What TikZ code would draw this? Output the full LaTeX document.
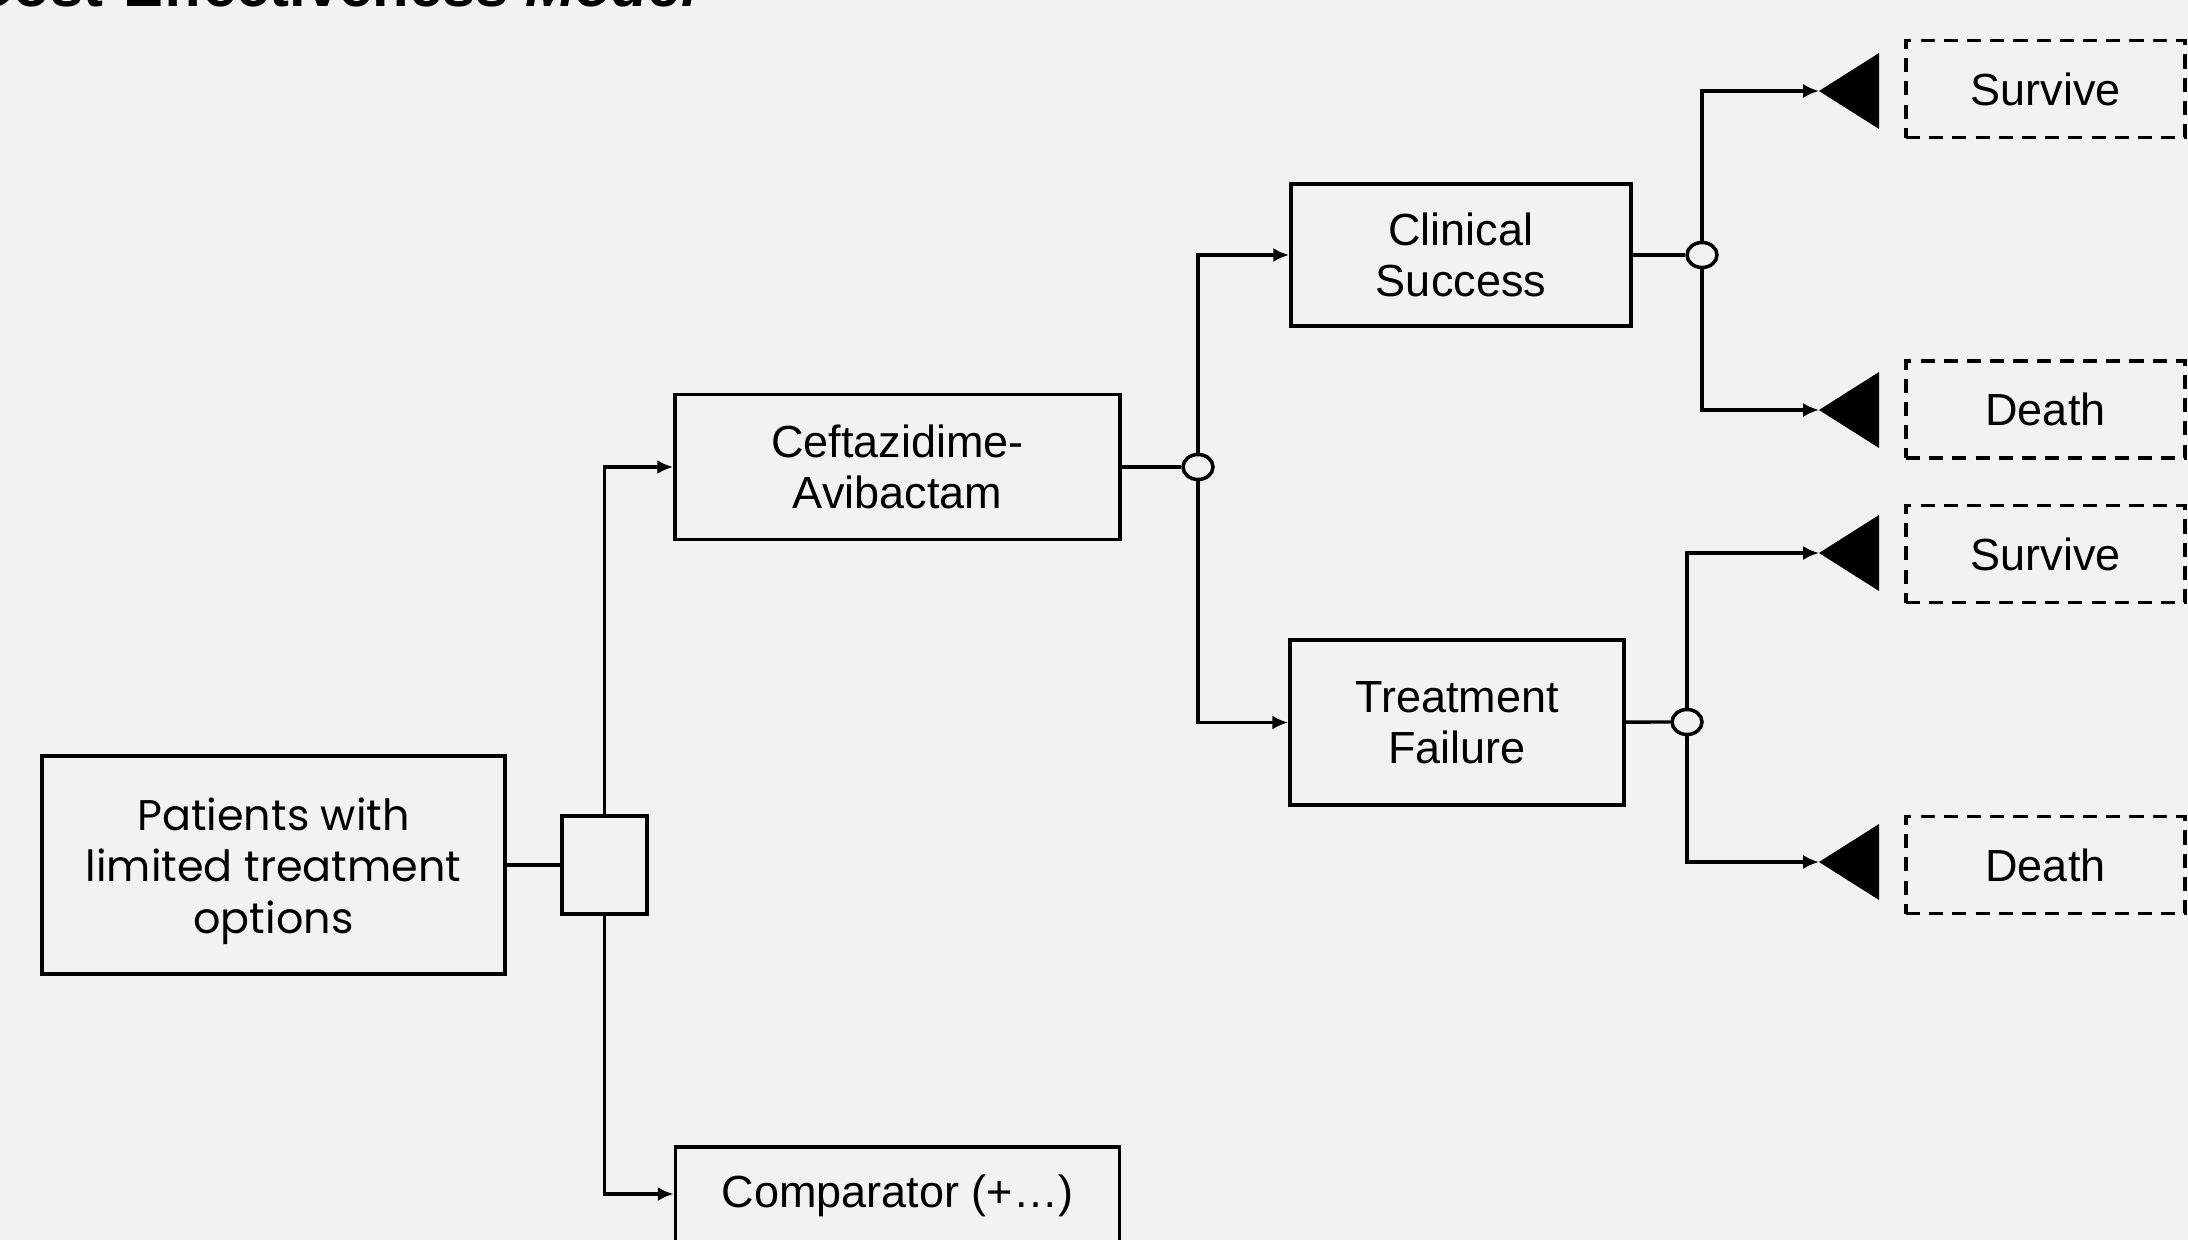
\documentclass[tikz,border=0pt]{standalone}
\usepackage{fontspec}
\setmainfont{Liberation Sans}
\newfontfamily\gothic{Poppins}
\usetikzlibrary{arrows.meta,shapes.geometric}
\definecolor{bg}{RGB}{242,242,242}
\begin{document}
\begin{tikzpicture}[x=0.01cm,y=-0.01cm,
 box/.style={draw,line width=1pt,align=center,inner sep=0pt,font=\fontsize{12.8}{14.4}\selectfont},
 endbox/.style={box,dash pattern=on 4pt off 2.6pt,minimum width=2.79cm,minimum height=0.97cm},
 chance/.style={draw,ellipse,line width=1pt,minimum width=0.3cm,minimum height=0.25cm,inner sep=0pt},
 link/.style={line width=0.95pt},
 arr/.style={link,-{Latex[length=4.5pt,width=4pt]}},
 term/.style={fill=black}
]
\fill[bg] (0,0) rectangle (2188,1240);
\useasboundingbox (0,0) rectangle (2188,1240);

\node[anchor=base east,inner sep=0pt,font=\bfseries\fontsize{17}{20}\selectfont] (title) at (700,7) {Cost-Effectiveness \textit{Model}};

\node[box,minimum width=4.63cm,minimum height=2.18cm] (pat) at (273.5,865) {};
\node[font=\gothic\fontsize{12.2}{14.7}\selectfont,align=center,inner sep=0pt] (pattxt) at (273.5,871) {Patients with\\limited treatment\\options};
\node[draw,line width=1pt,minimum width=0.85cm,minimum height=0.98cm,inner sep=0pt] (dec) at (604.5,865) {};
\node[box,minimum width=4.45cm,minimum height=1.45cm] (cef) at (897.5,467) {Ceftazidime-\\Avibactam};
\node[box,minimum width=4.44cm,minimum height=0.98cm] (comp) at (897.5,1196) {Comparator (+…)};
\node[box,minimum width=3.4cm,minimum height=1.42cm] (cs) at (1461,255) {Clinical\\Success};
\node[box,minimum width=3.34cm,minimum height=1.65cm] (tf) at (1457,722.5) {Treatment\\Failure};
\node[chance] (c1) at (1198,467) {};
\node[chance] (c2) at (1702,255) {};
\node[chance] (c3) at (1687,722) {};

\coordinate (t1) at (1819,91);
\coordinate (t2) at (1819,410);
\coordinate (t3) at (1819,553);
\coordinate (t4) at (1819,862);

\node[endbox] (e1) at (2045.5,89) {Survive};
\node[endbox] (e2) at (2045.5,409.5) {Death};
\node[endbox] (e3) at (2045.5,554) {Survive};
\node[endbox] (e4) at (2045.5,865) {Death};

\draw[link] (pat) -- (dec);
\draw[arr] (dec.north) |- (cef.west);
\draw[arr] (dec.south) |- ([yshift=0.02cm]comp.west);
\draw[link] (cef) -- (c1);
\draw[arr] (c1.north) |- (cs.west);
\draw[arr] (c1.south) |- (tf.west);
\draw[link] (cs) -- (c2);
\draw[link] (tf) -- (c3);
\draw[arr] (c2.north) |- (t1);
\draw[arr] (c2.south) |- (t2);
\draw[arr] (c3.north) |- (t3);
\draw[arr] (c3.south) |- (t4);

\foreach \t in {t1,t2,t3,t4}
  \fill[term] (\t) -- ++(60,-38) -- ++(0,76) -- cycle;
\end{tikzpicture}
\end{document}
